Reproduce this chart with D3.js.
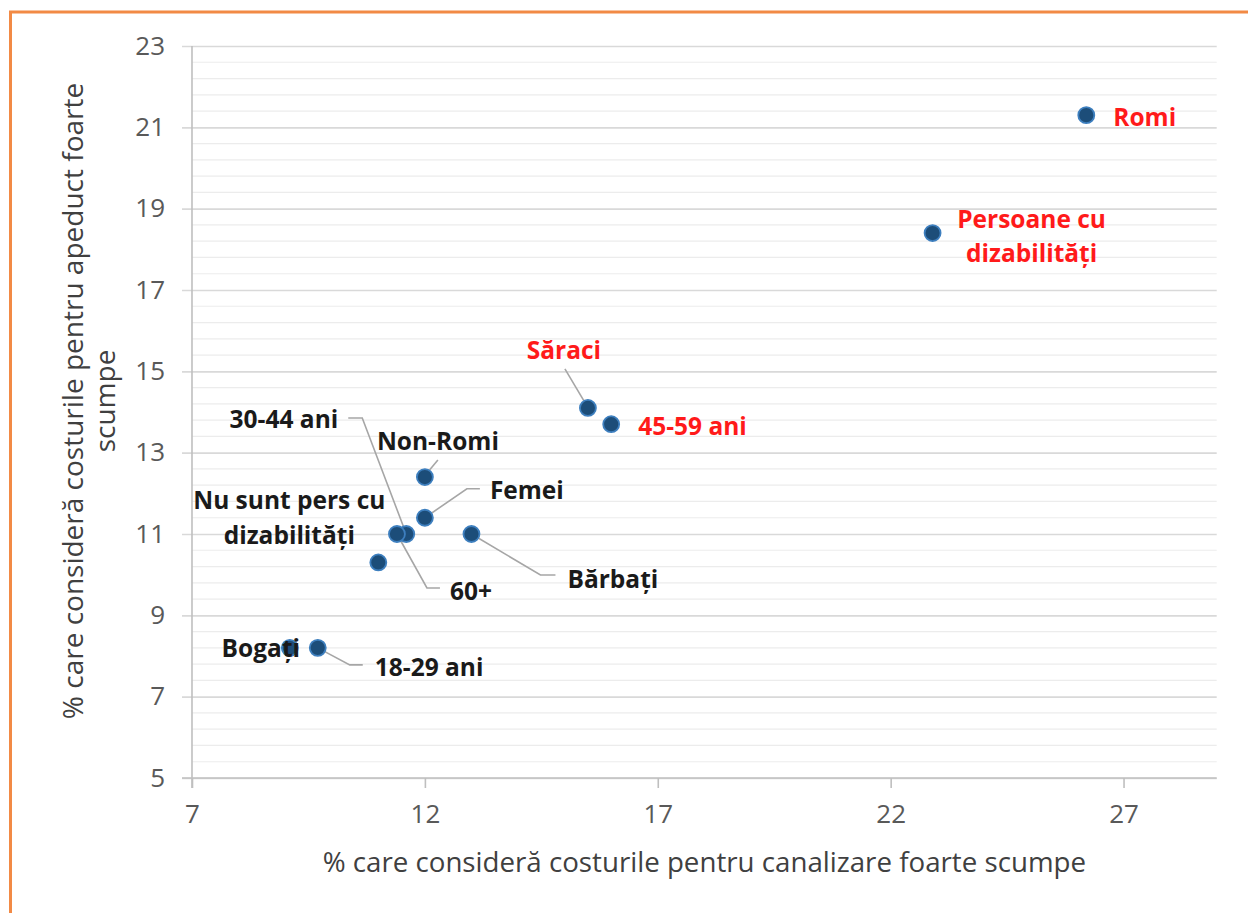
<!DOCTYPE html>
<html>
<head>
<meta charset="utf-8">
<script src="https://cdn.jsdelivr.net/npm/d3@7"></script>
<style>
  html, body { margin: 0; padding: 0; background: #fff; }
  svg { display: block; }
</style>
</head>
<body>
<svg id="chart" width="1248" height="913"></svg>
<script>
// ---- Data ----
const groups = ["Romi", "Persoane cu dizabilități", "Săraci", "45-59 ani", "Non-Romi", "Femei",
                "Bărbați", "30-44 ani", "60+", "Nu sunt pers cu dizabilități", "Bogați", "18-29 ani"];
const canalizare = [26.2, 22.9, 15.5, 16.0, 12.0, 12.0, 13.0, 11.6, 11.4, 11.0, 9.1, 9.7];
const apeduct    = [21.3, 18.4, 14.1, 13.7, 12.4, 11.4, 11.0, 11.0, 11.0, 10.3, 8.2, 8.2];
const highlighted = ["Romi", "Persoane cu dizabilități", "Săraci", "45-59 ani"];
const xTicks = [7, 12, 17, 22, 27];
const yTicks = [5, 7, 9, 11, 13, 15, 17, 19, 21, 23];
const xTitle = "% care consideră costurile pentru canalizare foarte scumpe";
const yTitle = ["% care consideră costurile pentru apeduct foarte", "scumpe"];

// ---- Label layout (pixel offsets from each point) ----
const labelLayout = {
  "Romi": {lines: ["Romi"], anchor: "start", dx: 27, dy: [1]},
  "Persoane cu dizabilități": {lines: ["Persoane cu", "dizabilități"], anchor: "middle", dx: 99, dy: [-15, 19]},
  "Săraci": {lines: ["Săraci"], anchor: "middle", dx: -24, dy: [-58], leader: [[-23, -39], [-1, -2]]},
  "45-59 ani": {lines: ["45-59 ani"], anchor: "start", dx: 27, dy: [1]},
  "Non-Romi": {lines: ["Non-Romi"], anchor: "middle", dx: 13, dy: [-37], leader: [[13, -17], [3, -5]]},
  "Femei": {lines: ["Femei"], anchor: "start", dx: 65, dy: [-28], leader: [[55, -29], [42, -29], [0, 0]]},
  "Bărbați": {lines: ["Bărbați"], anchor: "start", dx: 96, dy: [44], leader: [[0, 0], [69, 41], [84, 41]]},
  "30-44 ani": {lines: ["30-44 ani"], anchor: "end", dx: -68, dy: [-116], leader: [[-58, -116], [-44, -116], [0, 0]]},
  "60+": {lines: ["60+"], anchor: "start", dx: 53, dy: [56], leader: [[0, 0], [30, 54], [43, 54]]},
  "Nu sunt pers cu dizabilități": {lines: ["Nu sunt pers cu", "dizabilități"], anchor: "middle", dx: -89, dy: [-63, -28]},
  "Bogați": {lines: ["Bogați"], anchor: "middle", dx: -29, dy: [0]},
  "18-29 ani": {lines: ["18-29 ani"], anchor: "start", dx: 57, dy: [19], leader: [[0, 0], [32, 17], [45, 17]]}
};

const points = groups.map((g, i) => ({name: g, x: canalizare[i], y: apeduct[i]}));

// ---- Layout ----
const svg = d3.select("#chart");
const margin = {left: 192, top: 46, right: 1248 - 1216.7, bottom: 913 - 778};
const W = 1248 - margin.left - margin.right;
const H = 913 - margin.top - margin.bottom;
const font = "'Open Sans', 'Noto Sans', sans-serif";

// Orange frame
svg.append("rect")
  .attr("x", 10.5).attr("y", 12).attr("width", 1300).attr("height", 1000)
  .attr("fill", "none").attr("stroke", "#F28A45").attr("stroke-width", 3);

const x = d3.scaleLinear().domain([7, 29]).range([0, W]);
const y = d3.scaleLinear().domain([5, 23]).range([H, 0]);

const g = svg.append("g").attr("transform", `translate(${margin.left},${margin.top})`);

// Minor gridlines
const minor = d3.range(5, 23.0001, 0.4).filter(v => Math.abs((v - 5) / 2 - Math.round((v - 5) / 2)) > 0.01);
g.append("g").selectAll("line").data(minor).join("line")
  .attr("x1", 0).attr("x2", W)
  .attr("y1", d => y(d)).attr("y2", d => y(d))
  .attr("stroke", "#ececec").attr("stroke-width", 1.2);

// Major gridlines via axis
const yAxis = g.append("g")
  .call(d3.axisLeft(y).tickValues(yTicks).tickSize(-W).tickPadding(27).tickFormat(d3.format("d")));
yAxis.select(".domain").remove();
yAxis.selectAll(".tick line").attr("stroke", "#d9d9d9").attr("stroke-width", 1.6).attr("x1", -10);
yAxis.selectAll(".tick text")
  .attr("fill", "#595959").style("font-family", font).style("font-size", "26px");

// Y axis line
g.append("line").attr("x1", 0).attr("x2", 0).attr("y1", 0).attr("y2", H + 10)
  .attr("stroke", "#bfbfbf").attr("stroke-width", 1.6);
// X axis line
g.append("line").attr("x1", -10).attr("x2", W).attr("y1", H).attr("y2", H)
  .attr("stroke", "#bfbfbf").attr("stroke-width", 1.6);

const xAxis = g.append("g").attr("transform", `translate(0,${H})`)
  .call(d3.axisBottom(x).tickValues(xTicks).tickSize(10).tickPadding(17).tickFormat(d3.format("d")));
xAxis.select(".domain").remove();
xAxis.selectAll(".tick line").attr("stroke", "#bfbfbf").attr("stroke-width", 1.6);
xAxis.selectAll(".tick text")
  .attr("fill", "#595959").style("font-family", font).style("font-size", "26px");

// Axis titles
svg.append("text")
  .attr("x", margin.left + W / 2).attr("y", 861)
  .attr("text-anchor", "middle").attr("dominant-baseline", "central")
  .attr("fill", "#404040").style("font-family", font).style("font-size", "27.7px")
  .text(xTitle);

const yt = svg.append("text")
  .attr("transform", "translate(0,401) rotate(-90)")
  .attr("text-anchor", "middle")
  .attr("fill", "#404040").style("font-family", font).style("font-size", "28px");
yTitle.forEach((line, i) => {
  yt.append("tspan").attr("x", 0).attr("y", 83 + i * 32).text(line);
});

// Leader lines
const line = d3.line();
g.append("g").selectAll("path").data(points.filter(p => labelLayout[p.name].leader)).join("path")
  .attr("d", p => line(labelLayout[p.name].leader.map(([dx, dy]) => [x(p.x) + dx, y(p.y) + dy])))
  .attr("fill", "none").attr("stroke", "#a6a6a6").attr("stroke-width", 1.6);

// Points
const defs = svg.append("defs");
defs.append("filter").attr("id", "soft").append("feGaussianBlur").attr("stdDeviation", 0.7);
g.append("g").selectAll("circle").data(points).join("circle")
  .attr("cx", p => x(p.x)).attr("cy", p => y(p.y)).attr("r", 8)
  .attr("fill", "#1F4E79").attr("stroke", "#3d7fbf").attr("stroke-width", 1.8)
  .attr("filter", "url(#soft)");

// Labels
const labels = g.append("g").selectAll("text").data(points).join("text")
  .attr("text-anchor", p => labelLayout[p.name].anchor)
  .attr("fill", p => highlighted.includes(p.name) ? "#FF1A1A" : "#1a1a1a")
  .style("font-family", font).style("font-size", "24.5px").style("font-weight", "700");
labels.each(function(p) {
  const L = labelLayout[p.name];
  L.lines.forEach((ln, i) => {
    d3.select(this).append("tspan")
      .attr("x", x(p.x) + L.dx).attr("y", y(p.y) + L.dy[i])
      .attr("dominant-baseline", "central")
      .text(ln);
  });
});
</script>
</body>
</html>
